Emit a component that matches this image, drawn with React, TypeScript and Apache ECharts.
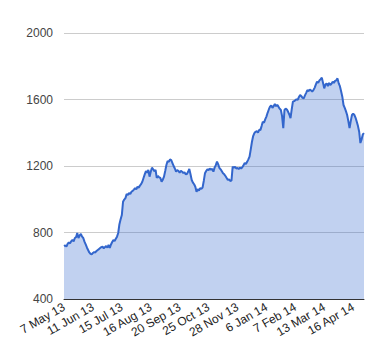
import React, { useEffect, useRef } from "react";
import * as echarts from "echarts";

const tickLabels: string[] = [
  "7 May 13", "11 Jun 13", "15 Jul 13", "16 Aug 13", "20 Sep 13", "25 Oct 13",
  "28 Nov 13", "6 Jan 14", "7 Feb 14", "13 Mar 14", "16 Apr 14",
];

const values: number[] = [
  718, 722, 716, 731, 740, 735, 748, 755, 746, 767,
  772, 797, 767, 782, 791, 775, 767, 745, 728, 710,
  695, 680, 671, 668, 677, 682, 680, 689, 695, 700,
  707, 712, 715, 705, 712, 718, 709, 725, 707, 728,
  743, 755, 748, 762, 775, 797, 850, 880, 905, 985,
  998, 1007, 1031, 1025, 1038, 1032, 1045, 1050, 1058, 1067,
  1060, 1075, 1070, 1082, 1091, 1105, 1128, 1150, 1170, 1160,
  1176, 1136, 1165, 1190, 1180, 1168, 1176, 1128, 1140, 1132,
  1128, 1106, 1118, 1136, 1170, 1206, 1230, 1225, 1240, 1236,
  1218, 1200, 1185, 1166, 1175, 1170, 1160, 1172, 1166, 1158,
  1162, 1150, 1152, 1165, 1182, 1150, 1116, 1100, 1090, 1075,
  1045, 1060, 1052, 1067, 1062, 1070, 1110, 1156, 1170, 1180,
  1175, 1185, 1178, 1182, 1166, 1190, 1205, 1226, 1210, 1188,
  1180, 1168, 1156, 1150, 1140, 1128, 1116, 1120, 1110, 1112,
  1196, 1190, 1195, 1185, 1188, 1182, 1190, 1185, 1192, 1205,
  1218, 1212, 1225, 1240, 1256, 1300, 1346, 1380, 1398, 1406,
  1410, 1400, 1418, 1416, 1440, 1466, 1460, 1480, 1497, 1520,
  1540, 1557, 1565, 1550, 1560, 1573, 1560, 1568, 1557, 1545,
  1537, 1500, 1428, 1537, 1545, 1540, 1526, 1510, 1488, 1540,
  1587, 1590, 1596, 1601, 1598, 1615, 1627, 1620, 1610, 1607,
  1625, 1640, 1657, 1650, 1660, 1655, 1648, 1657, 1670, 1690,
  1707, 1700, 1715, 1722, 1731, 1700, 1667, 1690, 1697, 1680,
  1700, 1687, 1695, 1707, 1700, 1712, 1715, 1727, 1697, 1680,
  1650, 1617, 1567, 1550, 1530, 1507, 1470, 1428, 1470, 1507,
  1515, 1507, 1490, 1466, 1440, 1406, 1338, 1360, 1390, 1398,
];

const labelStep = 24;
const categories: string[] = values.map((_, i) =>
  i % labelStep === 0 ? tickLabels[i / labelStep] ?? "" : ""
);

const yMin = 400;
const yMax = 2000;
const yStep = 400;

export default function App() {
  const ref = useRef<HTMLDivElement>(null);
  useEffect(() => {
    if (!ref.current) return;
    const chart = echarts.init(ref.current, undefined, { renderer: "svg" });
    chart.setOption({
      animation: false,
      grid: { left: 64, right: 16, top: 33, bottom: 61 },
      xAxis: {
        type: "category",
        data: categories,
        boundaryGap: false,
        axisLine: { show: true, lineStyle: { color: "#333", width: 1 } },
        axisTick: { show: false },
        splitLine: { show: false },
        axisLabel: {
          interval: labelStep - 1,
          rotate: 30,
          margin: 7,
          color: "#222",
          fontSize: 12,
          fontFamily: "Liberation Sans, Arial, sans-serif",
        },
      },
      yAxis: {
        type: "value",
        min: yMin,
        max: yMax,
        interval: yStep,
        axisLine: { show: false },
        axisTick: { show: false },
        splitLine: { show: true, lineStyle: { color: "#cccccc", width: 1 } },
        axisLabel: {
          margin: 11,
          color: "#444",
          fontSize: 12,
          fontFamily: "Liberation Sans, Arial, sans-serif",
          formatter: (v: number) => String(v),
        },
      },
      series: [
        {
          type: "line",
          data: values,
          showSymbol: false,
          symbol: "none",
          lineStyle: { color: "#3366cc", width: 2 },
          itemStyle: { color: "#3366cc" },
          areaStyle: { color: "#3366cc", opacity: 0.3 },
        },
      ],
    });
    return () => chart.dispose();
  }, []);
  return <div ref={ref} style={{ width: 380, height: 360, marginLeft: -8, marginTop: -8 }} />;
}
